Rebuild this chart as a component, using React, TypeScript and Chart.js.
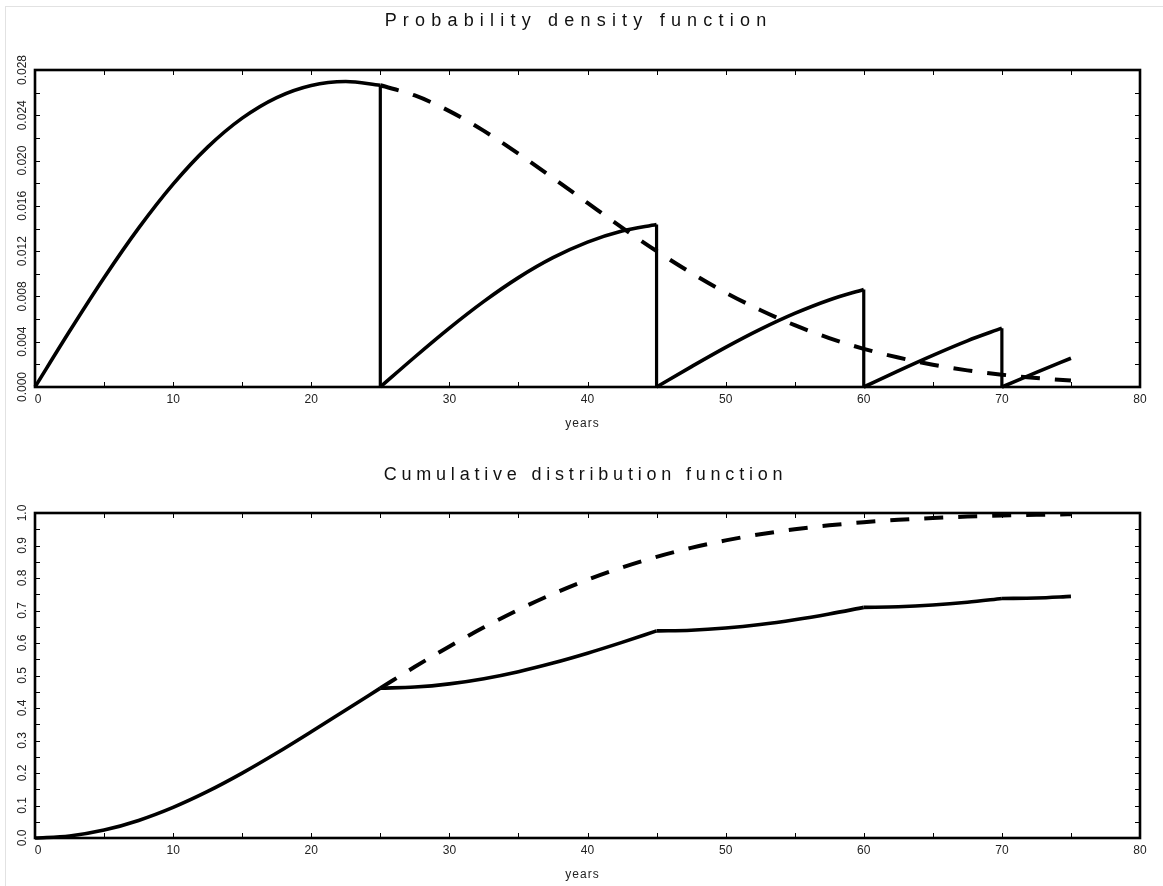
import React, { useEffect, useRef } from "react";
import { Chart, registerables } from "chart.js";

Chart.register(...registerables);

// ---------- Data ----------
// Probability density function — solid (with renewals at 25, 45, 60, 70 years)
const pdfSeg1Years = [0, 2.5, 5, 7.5, 10, 12.5, 15, 17.5, 20, 22.5, 25];
const pdfSeg1 = [0, 0.00492, 0.00965, 0.01403, 0.01792, 0.02119, 0.02375, 0.02557, 0.02664, 0.02698, 0.02665];
const pdfSeg2Years = [25, 27.5, 30, 32.5, 35, 37.5, 40, 42.5, 45];
const pdfSeg2 = [0, 0.00265, 0.0052, 0.00756, 0.00966, 0.01142, 0.0128, 0.01378, 0.01436];
const pdfSeg3Years = [45, 47.5, 50, 52.5, 55, 57.5, 60];
const pdfSeg3 = [0, 0.00178, 0.0035, 0.00509, 0.0065, 0.00769, 0.00862];
const pdfSeg4Years = [60, 62.5, 65, 67.5, 70];
const pdfSeg4 = [0, 0.00143, 0.0028, 0.00408, 0.0052];
const pdfSeg5Years = [70, 72.5, 75];
const pdfSeg5 = [0, 0.00129, 0.00254];

// Probability density function — dashed (no renewal)
const pdfDashedYears = [25, 27.5, 30, 32.5, 35, 37.5, 40, 42.5, 45, 47.5, 50, 52.5, 55, 57.5, 60, 62.5, 65, 67.5, 70, 72.5, 75];
const pdfDashed = [0.02665, 0.02575, 0.02437, 0.02262, 0.02061, 0.01846, 0.01626, 0.01408, 0.01201, 0.01009, 0.00834, 0.0068, 0.00546, 0.00432, 0.00337, 0.0026, 0.00197, 0.00147, 0.00109, 0.00079, 0.00057];

// Cumulative distribution function — solid
const cdfSeg1 = [0, 0.0062, 0.0244, 0.0541, 0.0942, 0.1432, 0.1995, 0.2613, 0.3268, 0.3939, 0.4611];
const cdfSeg2 = [0.4611, 0.4644, 0.4743, 0.4903, 0.5119, 0.5383, 0.5686, 0.6019, 0.6372];
const cdfSeg3 = [0.6372, 0.6394, 0.6461, 0.6568, 0.6714, 0.6892, 0.7096];
const cdfSeg4 = [0.7096, 0.7114, 0.7167, 0.7253, 0.737];
const cdfSeg5 = [0.737, 0.7386, 0.7434];
// Cumulative distribution function — dashed
const cdfDashed = [0.4611, 0.5267, 0.5894, 0.6482, 0.7023, 0.7512, 0.7946, 0.8325, 0.8651, 0.8927, 0.9157, 0.9345, 0.9498, 0.962, 0.9716, 0.979, 0.9847, 0.989, 0.9921, 0.9945, 0.9962];

// Renewal instants (vertical drops in the pdf)
const renewalYears = [25, 45, 60, 70];
const renewalTops = [0.02665, 0.01436, 0.00862, 0.0052];

// Axis ticks
const xMajorTicks = [0, 10, 20, 30, 40, 50, 60, 70, 80];
const xMinorTicks = [5, 15, 25, 35, 45, 55, 65, 75];
const pdfYMajorTicks = [0, 0.004, 0.008, 0.012, 0.016, 0.02, 0.024, 0.028];
const pdfYMinorTicks = [0.002, 0.006, 0.01, 0.014, 0.018, 0.022, 0.026];
const cdfYMajorTicks = [0, 0.1, 0.2, 0.3, 0.4, 0.5, 0.6, 0.7, 0.8, 0.9, 1.0];
const cdfYMinorTicks = [0.05, 0.15, 0.25, 0.35, 0.45, 0.55, 0.65, 0.75, 0.85, 0.95];

const xAxisTitle = "years";
const pdfTitle = "Probability density function";
const cdfTitle = "Cumulative distribution function";

// ---------- helpers ----------
const zip = (xs: number[], ys: number[]) => xs.map((x, i) => ({ x, y: ys[i] }));

const solid = (data: { x: number; y: number }[], smooth = true) => ({
  data,
  borderColor: "#000",
  borderWidth: 3.6,
  pointRadius: 0,
  fill: false,
  clip: false as any,
  cubicInterpolationMode: smooth ? ("monotone" as const) : ("default" as const),
  tension: 0,
});

const dashed = (data: { x: number; y: number }[]) => ({
  data,
  borderColor: "#000",
  borderWidth: 4,
  borderDash: [19, 15],
  pointRadius: 0,
  fill: false,
  clip: false as any,
  cubicInterpolationMode: "monotone" as const,
});

const framePlugin = {
  id: "frameAxes",
  afterDraw(chart: any, _args: any, opts: any) {
    const { ctx, chartArea } = chart;
    const { left, right, top, bottom } = chartArea;
    const xs = chart.scales.x;
    const ys = chart.scales.y;
    ctx.save();
    // tick marks (inward, all four sides)
    ctx.strokeStyle = "#000";
    ctx.lineWidth = 1;
    ctx.beginPath();
    [...opts.xMajor, ...opts.xMinor].forEach((v: number) => {
      const px = Math.round(xs.getPixelForValue(v)) + 0.5;
      ctx.moveTo(px, bottom);
      ctx.lineTo(px, bottom - 5);
      ctx.moveTo(px, top);
      ctx.lineTo(px, top + 5);
    });
    [...opts.yMajor, ...opts.yMinor].forEach((v: number) => {
      const py = Math.round(ys.getPixelForValue(v)) + 0.5;
      ctx.moveTo(left, py);
      ctx.lineTo(left + 5, py);
      ctx.moveTo(right, py);
      ctx.lineTo(right - 5, py);
    });
    ctx.stroke();
    // frame
    ctx.lineWidth = 2.6;
    ctx.strokeRect(left, top, right - left, bottom - top);
    // tick labels
    ctx.fillStyle = "#222";
    ctx.font = '12px "Liberation Sans", Arial, sans-serif';
    ctx.textAlign = "center";
    ctx.textBaseline = "middle";
    opts.xMajor.forEach((v: number) => {
      ctx.fillText(String(v), xs.getPixelForValue(v) + (v === 0 ? 3 : 0), bottom + 13);
    });
    opts.yMajor.forEach((v: number) => {
      const py = ys.getPixelForValue(v);
      ctx.save();
      ctx.translate(left - 12, py);
      ctx.rotate(-Math.PI / 2);
      ctx.fillText(v.toFixed(opts.yDecimals), 0, 0);
      ctx.restore();
    });
    // axis title
    ctx.font = '12px "Liberation Sans", Arial, sans-serif';
    (ctx as any).letterSpacing = "1px";
    ctx.fillText(opts.xTitle, (left + right) / 2 - 5, bottom + 37);
    ctx.restore();
  },
};

function Plot(props: {
  datasets: any[];
  yMax: number;
  yMajor: number[];
  yMinor: number[];
  yDecimals: number;
  padTop: number;
  padBottom: number;
  height: number;
}) {
  const ref = useRef<HTMLCanvasElement | null>(null);
  useEffect(() => {
    if (!ref.current) return;
    const chart = new Chart(ref.current, {
      type: "line",
      data: { datasets: props.datasets },
      options: {
        animation: false,
        responsive: false,
        devicePixelRatio: 1,
        parsing: true,
        layout: { padding: { left: 35, right: 23, top: props.padTop, bottom: props.padBottom } },
        plugins: {
          legend: { display: false },
          tooltip: { enabled: false },
          title: { display: false },
          frameAxes: {
            xMajor: xMajorTicks,
            xMinor: xMinorTicks,
            yMajor: props.yMajor,
            yMinor: props.yMinor,
            yDecimals: props.yDecimals,
            xTitle: xAxisTitle,
          },
        } as any,
        scales: {
          x: { type: "linear", min: 0, max: 80, display: false },
          y: { type: "linear", min: 0, max: props.yMax, display: false },
        },
      },
      plugins: [framePlugin],
    });
    return () => chart.destroy();
  }, []);
  return <canvas ref={ref} width={1163} height={props.height} style={{ display: "block" }} />;
}

export default function App() {
  const pdfDatasets = [
    solid(zip(pdfSeg1Years, pdfSeg1)),
    solid(zip(pdfSeg2Years, pdfSeg2)),
    solid(zip(pdfSeg3Years, pdfSeg3)),
    solid(zip(pdfSeg4Years, pdfSeg4)),
    solid(zip(pdfSeg5Years, pdfSeg5)),
    ...renewalYears.map((yr, i) => ({
      ...solid([{ x: yr, y: renewalTops[i] }, { x: yr, y: 0 }], false),
      borderWidth: 3.2,
    })),
    dashed(zip(pdfDashedYears, pdfDashed)),
  ];
  const cdfDatasets = [
    solid(zip(pdfSeg1Years, cdfSeg1)),
    solid(zip(pdfSeg2Years, cdfSeg2)),
    solid(zip(pdfSeg3Years, cdfSeg3)),
    solid(zip(pdfSeg4Years, cdfSeg4)),
    solid(zip(pdfSeg5Years, cdfSeg5)),
    dashed(zip(pdfDashedYears, cdfDashed)),
  ];
  const titleStyle: React.CSSProperties = {
    position: "absolute",
    width: 1163,
    textAlign: "center",
    font: '18px "Liberation Sans", Arial, sans-serif',
    color: "#111",
    lineHeight: "20px",
  };
  return (
    <div style={{ position: "absolute", left: 0, top: 0, width: 1163, height: 886, background: "#fff", overflow: "hidden" }}>
      <div style={{ position: "absolute", left: 5, top: 6, width: 1170, height: 900, borderTop: "1px solid #e2e2e2", borderLeft: "1px solid #e2e2e2" }} />
      <div style={{ position: "absolute", left: 0, top: 0 }}>
        <Plot datasets={pdfDatasets} yMax={0.028} yMajor={pdfYMajorTicks} yMinor={pdfYMinorTicks} yDecimals={3} padTop={70} padBottom={56} height={443} />
      </div>
      <div style={{ position: "absolute", left: 0, top: 443 }}>
        <Plot datasets={cdfDatasets} yMax={1.0} yMajor={cdfYMajorTicks} yMinor={cdfYMinorTicks} yDecimals={1} padTop={70} padBottom={48} height={443} />
      </div>
      <div style={{ ...titleStyle, left: -3, top: 10, letterSpacing: "6.2px" }}>{pdfTitle}</div>
      <div style={{ ...titleStyle, left: 4, top: 464, letterSpacing: "4.8px" }}>{cdfTitle}</div>
    </div>
  );
}
